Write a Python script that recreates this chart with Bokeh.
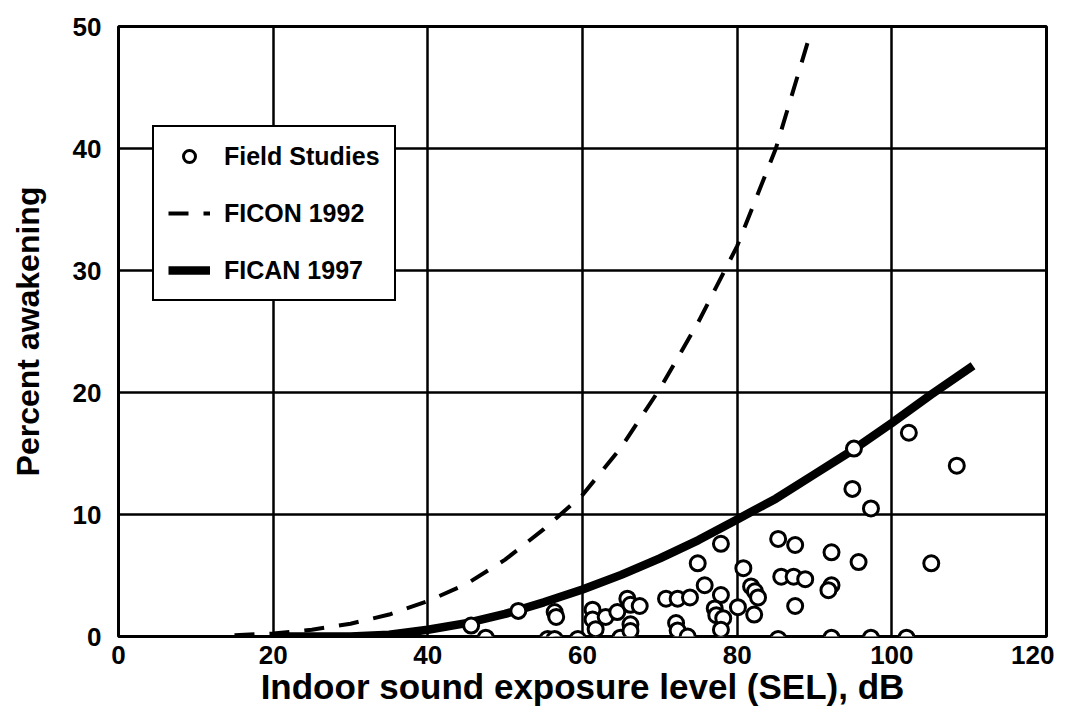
from bokeh.plotting import figure
from bokeh.models import Range1d, FixedTicker, Legend, LegendItem
from bokeh.embed import file_html
from bokeh.resources import INLINE

# Field study data (indoor SEL dB, percent awakening)
fs_x = [45.6, 47.5, 51.7, 56.4, 56.6, 55.5, 56.4, 59.4, 61.3, 61.3, 63.0, 64.5,
        65.8, 66.2, 67.4, 61.7, 64.9, 66.2, 66.2, 70.8, 72.3, 73.9, 72.1, 72.3,
        73.6, 74.9, 75.8, 77.9, 77.9, 77.1, 77.3, 78.2, 77.9, 80.1, 80.8, 81.8,
        82.3, 82.7, 82.2, 85.3, 85.7, 85.3, 87.5, 87.3, 88.8, 87.5, 92.2, 92.2,
        91.8, 95.7, 92.2, 97.3, 101.9, 95.1, 94.9, 97.3, 102.2, 108.4, 105.1]
fs_y = [0.9, -0.1, 2.1, 2.0, 1.6, -0.2, -0.2, -0.2, 2.2, 1.4, 1.6, 2.0,
        3.1, 2.6, 2.5, 0.6, -0.1, 1.0, 0.45, 3.1, 3.1, 3.2, 1.1, 0.5,
        0.0, 6.0, 4.2, 7.6, 3.4, 2.3, 1.75, 1.5, 0.56, 2.4, 5.6, 4.1,
        3.7, 3.2, 1.8, 8.0, 4.9, -0.2, 7.5, 4.9, 4.7, 2.5, 6.9, 4.2,
        3.8, 6.1, -0.1, -0.1, -0.1, 15.4, 12.1, 10.5, 16.7, 14.0, 6.0]

# FICON 1992 curve (dashed)
ficon_x = [15, 20, 25, 30, 35, 40, 45, 50, 55, 60, 65, 70, 75, 80, 85, 89.5]
ficon_y = [0.1, 0.25, 0.55, 1.05, 1.8, 2.9, 4.3, 6.3, 8.8, 11.6, 15.5, 20.3,
           25.8, 32.0, 40.0, 49.5]

# FICAN 1997 curve (thick solid)
fican_x = [20, 25, 30, 35, 40, 45, 50, 55, 60, 65, 70, 75, 80, 85, 90, 95,
           100, 105, 110.5]
fican_y = [0.0, 0.0, 0.0, 0.15, 0.55, 1.1, 1.85, 2.8, 3.85, 5.05, 6.4, 7.9,
           9.6, 11.3, 13.3, 15.3, 17.5, 19.8, 22.2]

x_ticks = [0, 20, 40, 60, 80, 100, 120]
y_ticks = [0, 10, 20, 30, 40, 50]

FONT = "Liberation Sans"

p = figure(width=1054, height=708, x_range=Range1d(0, 120), y_range=Range1d(0, 50),
           output_backend="svg", toolbar_location=None,
           min_border_left=118, min_border_right=8, min_border_top=26,
           min_border_bottom=70)

p.outline_line_color = "black"
p.outline_line_width = 3
p.outline_line_alpha = 1.0

for ax in (p.xaxis[0], p.yaxis[0]):
    ax.axis_line_color = None
    ax.major_tick_line_color = None
    ax.minor_tick_line_color = None
    ax.major_tick_out = 0
    ax.major_tick_in = 0
    ax.major_label_text_font = FONT
    ax.major_label_text_font_style = "bold"
    ax.major_label_text_font_size = "26px"
    ax.major_label_text_color = "black"
    ax.axis_label_text_font = FONT
    ax.axis_label_text_font_style = "bold"
    ax.axis_label_text_color = "black"

p.xaxis.ticker = FixedTicker(ticks=x_ticks)
p.yaxis.ticker = FixedTicker(ticks=y_ticks)
p.xaxis.axis_label = "Indoor sound exposure level (SEL), dB"
p.yaxis.axis_label = "Percent awakening"
p.xaxis.axis_label_text_font_size = "35px"
p.yaxis.axis_label_text_font_size = "32px"
p.xaxis.major_label_standoff = 9
p.yaxis.major_label_standoff = 17
p.xaxis.axis_label_standoff = 0
p.yaxis.axis_label_standoff = 24

for g in (p.xgrid[0], p.ygrid[0]):
    g.grid_line_color = "black"
    g.grid_line_width = 2.5
    g.grid_line_alpha = 1.0
p.xgrid.ticker = FixedTicker(ticks=x_ticks)
p.ygrid.ticker = FixedTicker(ticks=y_ticks)

r_ficon = p.line(ficon_x, ficon_y, line_color="black", line_width=4,
                 line_dash="20 15")
r_fican = p.line(fican_x, fican_y, line_color="black", line_width=8.5)
r_fs = p.scatter(fs_x, fs_y, marker="circle", size=15, fill_color="white",
                 line_color="black", line_width=3)

legend = Legend(items=[
    LegendItem(label="Field Studies", renderers=[r_fs]),
    LegendItem(label="FICON 1992", renderers=[r_ficon]),
    LegendItem(label="FICAN 1997", renderers=[r_fican]),
], location=(34, 335))
legend.label_text_font = FONT
legend.label_text_font_style = "bold"
legend.label_text_font_size = "25px"
legend.label_text_color = "black"
legend.glyph_width = 42
legend.glyph_height = 30
legend.label_height = 30
legend.label_standoff = 14
legend.spacing = 27
legend.padding = 14
legend.margin = 0
legend.border_line_color = "black"
legend.border_line_width = 2.5
legend.border_line_alpha = 1.0
legend.background_fill_color = "white"
legend.background_fill_alpha = 1.0
p.add_layout(legend)

open("out.html", "w").write(file_html(p, INLINE))
